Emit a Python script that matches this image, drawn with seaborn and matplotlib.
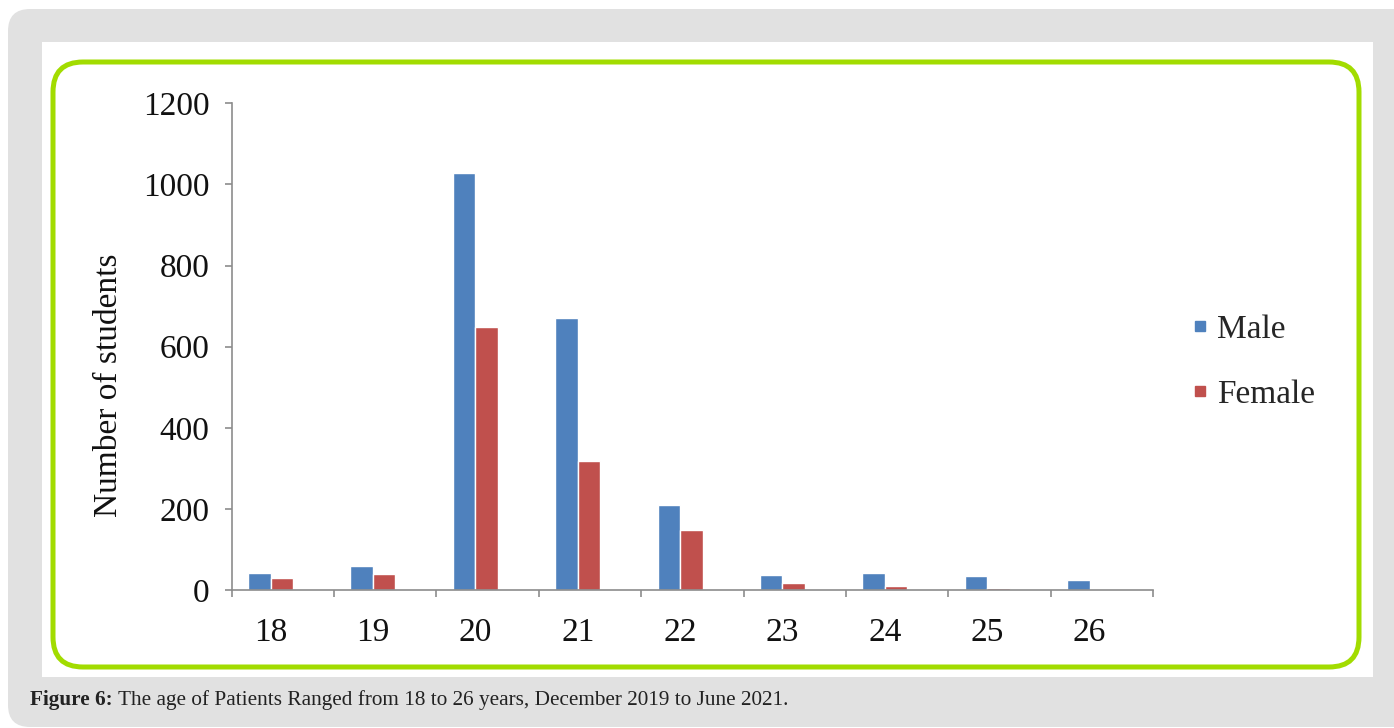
import matplotlib
matplotlib.use("Agg")
import matplotlib.pyplot as plt
import seaborn as sns
import pandas as pd
import numpy as np
from matplotlib.patches import FancyBboxPatch
from matplotlib.transforms import IdentityTransform
from matplotlib.lines import Line2D

# ---- data ----
ages = ["18", "19", "20", "21", "22", "23", "24", "25", "26"]
male = [43, 59, 1027, 670, 210, 37, 43, 35, 25]
female = [30, 39, 649, 319, 148, 18, 11, 6, 0]
series_names = ["Male", "Female"]
y_ticks = [0, 200, 400, 600, 800, 1000, 1200]
caption_bold = "Figure 6:"
caption_rest = " The age of Patients Ranged from 18 to 26 years, December 2019 to June 2021."

BLUE = "#4f81bd"
RED = "#c0504d"
GREEN = "#a2dc00"
GREY_BG = "#e1e1e1"
AXIS_GREY = "#8c8c8c"

df = pd.DataFrame({
    "Age": ages * 2,
    "Count": male + female,
    "Sex": [series_names[0]] * len(ages) + [series_names[1]] * len(ages),
})

sns.set_theme(style="white")
plt.rcParams["font.family"] = ["Liberation Serif", "DejaVu Serif"]

W, H = 1394, 728
fig = plt.figure(figsize=(W / 100, H / 100), dpi=100)
fig.patch.set_facecolor("white")

# background panels (pixel coordinates, origin bottom-left)
idt = IdentityTransform()
fig.patches.append(FancyBboxPatch((8, 1), 1420, 718, boxstyle="round,pad=0,rounding_size=22",
                                  transform=idt, facecolor=GREY_BG, edgecolor="none", zorder=-3))
fig.patches.append(FancyBboxPatch((42, 51), 1331, 635, boxstyle="square,pad=0",
                                  transform=idt, facecolor="white", edgecolor="none", zorder=-2))
fig.patches.append(FancyBboxPatch((53, 61), 1306, 605, boxstyle="round,pad=0,rounding_size=30",
                                  transform=idt, facecolor="none", edgecolor=GREEN, linewidth=3.6, zorder=-1))

# axes
x0, x1 = 231.7, 1153.0
ybot, ytop = 590.0, 103.3
ax = fig.add_axes([x0 / W, 1 - ybot / H, (x1 - x0) / W, (ybot - ytop) / H])
ax.set_facecolor("none")

sns.barplot(data=df, x="Age", y="Count", hue="Sex", palette=[BLUE, RED],
            width=0.44, gap=0, saturation=1, ax=ax, legend=False, errorbar=None)

ax.set_xlim(-0.38, 8.62)
ax.set_ylim(0, 1200)
ax.set_yticks(y_ticks)
ax.set_yticklabels([str(v) for v in y_ticks])
ax.set_xticks(range(len(ages)))
ax.set_xticklabels(ages)
ax.set_xticks([i + 0.62 for i in range(-1, len(ages))], minor=True)

for s in ["top", "right"]:
    ax.spines[s].set_visible(False)
for s in ["left", "bottom"]:
    ax.spines[s].set_color(AXIS_GREY)
    ax.spines[s].set_linewidth(1.2)

ax.tick_params(axis="y", which="major", direction="out", length=5, width=1.2,
               color=AXIS_GREY, labelsize=24, pad=11, labelcolor="#111111", left=True)
ax.tick_params(axis="x", which="major", length=0, labelsize=24, pad=20, labelcolor="#111111")
ax.tick_params(axis="x", which="minor", direction="out", length=5, width=1.2,
               color=AXIS_GREY, bottom=True)

ax.set_xlabel("")
ax.set_ylabel("Number of students", fontsize=24, color="#111111")
ax.yaxis.set_label_coords(-0.117, 0.421)

# legend
handles = [Line2D([], [], marker="s", linestyle="none", markersize=7, color=c) for c in (BLUE, RED)]
fig.legend(handles, series_names, loc="center left", frameon=False,
           bbox_to_anchor=(1192 / W, (H - 362) / H), bbox_transform=fig.transFigure,
           fontsize=24, handlelength=0.5, handletextpad=0.25, labelspacing=1.05,
           borderpad=0, borderaxespad=0)

# caption
t = fig.text(30 / W, (H - 700) / H, caption_bold, fontsize=15.3, fontweight="bold",
             va="center", ha="left", color="#222222")
fig.canvas.draw()
bb = t.get_window_extent()
fig.text(bb.x1 / W, (H - 700) / H, caption_rest, fontsize=15.3, va="center", ha="left", color="#222222")

fig.savefig("out.png", dpi=100, facecolor=fig.get_facecolor())
